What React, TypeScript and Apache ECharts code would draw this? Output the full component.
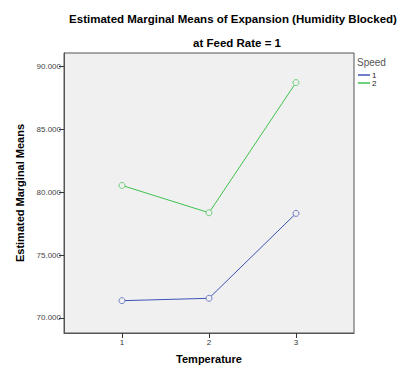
import React, { useEffect, useRef } from "react";
import * as echarts from "echarts";

const temperatures = [1, 2, 3];
const speed1 = [71.37, 71.56, 78.31];
const speed2 = [80.53, 78.36, 88.71];
const yTicks = [70, 75, 80, 85, 90];
const seriesNames = ["1", "2"];
const seriesColors = ["#3d54b5", "#3ec24f"];
const titleLines = ["Estimated Marginal Means of Expansion (Humidity Blocked)", "at Feed Rate = 1"];

export default function App() {
  const ref = useRef<HTMLDivElement>(null);
  useEffect(() => {
    if (!ref.current) return;
    const chart = echarts.init(ref.current, null, { renderer: "svg" });
    const font = "'Liberation Sans', Arial, sans-serif";
    const values = [speed1, speed2];
    chart.setOption({
      animation: false,
      backgroundColor: "#ffffff",
      textStyle: { fontFamily: font },
      grid: {
        left: 64,
        right: 66,
        top: 53,
        bottom: 46,
        show: true,
        backgroundColor: "#f0f0f0",
        borderColor: "#555",
        borderWidth: 1,
      },
      legend: {
        orient: "vertical",
        left: 358,
        top: 71,
        padding: 0,
        itemGap: 0,
        itemWidth: 12,
        itemHeight: 1.5,
        icon: "rect",
        textStyle: { fontSize: 8, lineHeight: 8, color: "#222", padding: [0, 0, 0, -3], fontFamily: font },
        data: seriesNames.map((n, i) => ({
          name: n,
          itemStyle: { color: seriesColors[i], borderWidth: 0 },
        })),
      },
      graphic: [
        {
          type: "text",
          x: 233,
          y: 13,
          style: { text: titleLines[0], fontSize: 11.5, fontWeight: "bold", fill: "#000", fontFamily: font, align: "center" },
        },
        {
          type: "text",
          x: 237,
          y: 37,
          style: { text: titleLines[1], fontSize: 11.5, fontWeight: "bold", fill: "#000", fontFamily: font, align: "center" },
        },
        {
          type: "text",
          left: 357,
          top: 57,
          style: { text: "Speed", fontSize: 10, fill: "#555", fontFamily: font },
        },
      ],
      xAxis: {
        type: "value",
        min: 1 / 3,
        max: 11 / 3,
        name: "Temperature",
        nameLocation: "middle",
        nameGap: 20,
        nameTextStyle: { fontSize: 11, fontWeight: "bold", color: "#000", fontFamily: font },
        splitLine: { show: false },
        axisLine: { show: true, lineStyle: { color: "#555" } },
        axisTick: { show: true, length: 5, customValues: temperatures, lineStyle: { color: "#333" } },
        axisLabel: { customValues: temperatures, fontSize: 8, color: "#333", margin: 5, fontFamily: font },
      },
      yAxis: {
        type: "value",
        min: 68.8,
        max: 91.06,
        name: "Estimated Marginal Means",
        nameLocation: "middle",
        nameGap: 38,
        nameTextStyle: { fontSize: 11, fontWeight: "bold", color: "#000", fontFamily: font },
        splitLine: { show: false },
        axisLine: { show: true, lineStyle: { color: "#555" } },
        axisTick: { show: true, length: 5, customValues: yTicks, lineStyle: { color: "#333" } },
        axisLabel: {
          customValues: yTicks,
          fontSize: 8,
          color: "#444",
          margin: 3,
          fontFamily: font,
          formatter: (v: number) => v.toFixed(3),
        },
      },
      series: seriesNames.map((n, i) => ({
        name: n,
        type: "line",
        data: temperatures.map((t, j) => [t, values[i][j]]),
        symbol: "circle",
        symbolSize: 6,
        color: seriesColors[i],
        lineStyle: { width: 1, color: seriesColors[i] },
        itemStyle: { color: "#f0f0f0", borderColor: seriesColors[i], borderWidth: 0.7 },
        emphasis: { disabled: true },
      })),
    });
    return () => chart.dispose();
  }, []);
  return <div ref={ref} style={{ width: 420, height: 379, position: "absolute", left: 0, top: 0 }} />;
}
